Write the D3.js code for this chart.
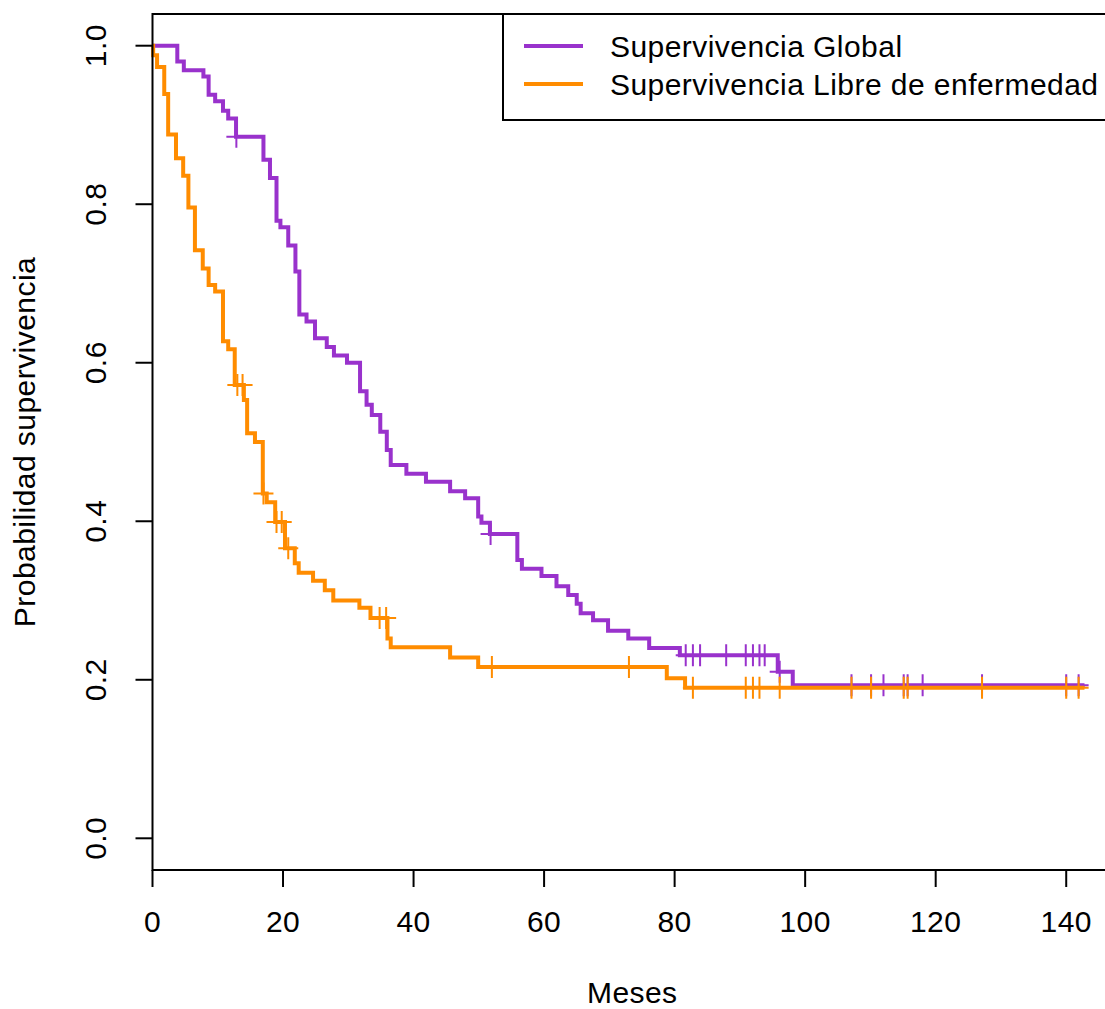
<!DOCTYPE html>
<html lang="en">
<head>
<meta charset="UTF-8">
<title>Curvas de supervivencia</title>
<script src="https://cdn.jsdelivr.net/npm/d3@7"></script>
<style>
  body { margin: 0; background: #fff; }
  text { font-family: "Liberation Sans", Arial, sans-serif; fill: #000; letter-spacing: 0.45px; }
</style>
</head>
<body>
<svg id="main" width="1105" height="1009"></svg>
<script>
// Supervivencia Global (drop times in months, level after drop)
const osTimes = [0, 3.8, 4.8, 7.8, 8.6, 9.6, 10.8, 11.6, 12.8, 17.0, 18.0, 19.0, 19.6, 20.8, 21.9, 22.5, 23.6, 24.9, 26.7, 27.8, 29.8, 31.8, 32.8, 33.6, 34.9, 35.9, 36.5, 38.9, 41.9, 45.6, 47.9, 49.9, 50.4, 51.7, 55.9, 56.6, 59.6, 61.9, 63.7, 65.0, 65.6, 67.5, 69.8, 72.9, 76.1, 80.8, 95.8, 98.1, 142.8];
const osSurv = [1, 0.980, 0.969, 0.961, 0.938, 0.930, 0.918, 0.908, 0.885, 0.856, 0.833, 0.779, 0.771, 0.748, 0.715, 0.661, 0.652, 0.631, 0.620, 0.609, 0.600, 0.564, 0.547, 0.534, 0.513, 0.490, 0.471, 0.460, 0.450, 0.438, 0.429, 0.406, 0.398, 0.384, 0.351, 0.340, 0.331, 0.318, 0.307, 0.296, 0.284, 0.275, 0.262, 0.252, 0.240, 0.231, 0.210, 0.193, 0.193];
const osCensor = [12.85, 51.8, 81.7, 82.8, 83.9, 87.9, 90.9, 92.0, 93.0, 93.8, 96.1, 107.1, 110.1, 112.0, 115.1, 115.7, 118.0, 127.1, 140.0, 141.9];

// Supervivencia Libre de enfermedad
const dfsTimes = [0, 0.1, 0.7, 1.8, 2.4, 3.6, 4.7, 5.5, 6.5, 7.7, 8.6, 9.6, 10.8, 11.6, 12.6, 14.0, 14.5, 15.7, 16.9, 17.5, 18.8, 20.3, 21.8, 22.4, 24.6, 26.4, 27.7, 31.7, 33.4, 36.0, 36.5, 45.6, 49.9, 78.8, 81.6, 142.8];
const dfsSurv = [1, 0.988, 0.973, 0.939, 0.888, 0.858, 0.836, 0.796, 0.742, 0.719, 0.698, 0.690, 0.627, 0.617, 0.572, 0.553, 0.511, 0.500, 0.435, 0.424, 0.399, 0.366, 0.347, 0.335, 0.325, 0.313, 0.300, 0.291, 0.278, 0.252, 0.241, 0.228, 0.216, 0.202, 0.190, 0.190];
const dfsCensor = [13.0, 13.8, 17.0, 19.0, 19.8, 20.8, 34.8, 35.8, 52.0, 73.0, 82.8, 90.9, 92.0, 93.0, 96.1, 107.1, 110.1, 115.1, 115.7, 127.1, 140.0, 141.9];

const xTicks = [0, 20, 40, 60, 80, 100, 120, 140];
const yTicks = [0, 0.2, 0.4, 0.6, 0.8, 1.0];
const seriesNames = ['Supervivencia Global', 'Supervivencia Libre de enfermedad'];
const seriesColors = ['#9932cc', '#ff8c00'];

let svg = d3.select('svg#main');
let box = {left: 152.5, top: 14, right: 1123, bottom: 870};

let xScale = d3.scaleLinear().domain([0, 148.7]).range([box.left, box.right]);
let yScale = d3.scaleLinear().domain([-0.04, 1.04]).range([box.bottom, box.top]);

// level of a step curve at time t
function survAt(times, surv, t) {
    return surv[d3.bisectRight(times, t) - 1];
}

let series = [
    {times: osTimes, surv: osSurv, censor: osCensor},
    {times: dfsTimes, surv: dfsSurv, censor: dfsCensor}
];

let line = d3.line()
    .x(function(d) { return xScale(d[0]); })
    .y(function(d) { return yScale(d[1]); })
    .curve(d3.curveStepAfter);

series.forEach(function(s, i) {
    let pts = d3.zip(s.times, s.surv);
    svg.append('path')
        .attr('d', line(pts))
        .attr('fill', 'none')
        .attr('stroke', seriesColors[i])
        .attr('stroke-width', 4);

    let marks = svg.append('g');
    s.censor.forEach(function(t) {
        let cx = xScale(t), cy = yScale(survAt(s.times, s.surv, t));
        marks.append('path')
            .attr('d', 'M' + (cx - 10) + ',' + cy + 'H' + (cx + 10) + 'M' + cx + ',' + (cy - 11) + 'V' + (cy + 11))
            .attr('stroke', seriesColors[i])
            .attr('stroke-width', 2)
            .attr('fill', 'none');
    });
});

// frame
svg.append('rect')
    .attr('x', box.left).attr('y', box.top)
    .attr('width', box.right - box.left).attr('height', box.bottom - box.top)
    .attr('fill', 'none').attr('stroke', '#000').attr('stroke-width', 2);

// x axis
let xAxis = svg.append('g');
xAxis.append('line')
    .attr('x1', xScale(0)).attr('x2', xScale(140))
    .attr('y1', box.bottom).attr('y2', box.bottom)
    .attr('stroke', '#000').attr('stroke-width', 2);
xAxis.selectAll('line.tick').data(xTicks).enter().append('line')
    .attr('class', 'tick')
    .attr('x1', d => xScale(d)).attr('x2', d => xScale(d))
    .attr('y1', box.bottom).attr('y2', box.bottom + 17)
    .attr('stroke', '#000').attr('stroke-width', 2);
xAxis.selectAll('text').data(xTicks).enter().append('text')
    .attr('x', d => xScale(d)).attr('y', 932)
    .attr('text-anchor', 'middle')
    .attr('font-size', 30)
    .text(d => d);

// y axis
let yAxis = svg.append('g');
yAxis.selectAll('line.tick').data(yTicks).enter().append('line')
    .attr('class', 'tick')
    .attr('x1', box.left - 17).attr('x2', box.left)
    .attr('y1', d => yScale(d)).attr('y2', d => yScale(d))
    .attr('stroke', '#000').attr('stroke-width', 2);
yAxis.selectAll('text').data(yTicks).enter().append('text')
    .attr('transform', d => 'translate(106,' + yScale(d) + ') rotate(-90)')
    .attr('text-anchor', 'middle')
    .attr('font-size', 30)
    .text(d => d.toFixed(1));

// axis titles
svg.append('text')
    .attr('x', (box.left + 1112) / 2).attr('y', 1003)
    .attr('text-anchor', 'middle').attr('font-size', 30)
    .text('Meses');
svg.append('text')
    .attr('transform', 'translate(35,' + (box.top + box.bottom) / 2 + ') rotate(-90)')
    .attr('text-anchor', 'middle').attr('font-size', 30)
    .text('Probabilidad supervivencia');

// legend
let legend = svg.append('g');
legend.append('rect')
    .attr('x', 503).attr('y', box.top)
    .attr('width', 640).attr('height', 120 - box.top)
    .attr('fill', '#fff').attr('stroke', '#000').attr('stroke-width', 2);
seriesNames.forEach(function(name, i) {
    let ly = 46 + i * 38;
    legend.append('line')
        .attr('x1', 524).attr('x2', 583)
        .attr('y1', ly).attr('y2', ly)
        .attr('stroke', seriesColors[i]).attr('stroke-width', 4);
    legend.append('text')
        .attr('x', 610).attr('y', ly + 11)
        .attr('font-size', 30)
        .text(name);
});
</script>
</body>
</html>
